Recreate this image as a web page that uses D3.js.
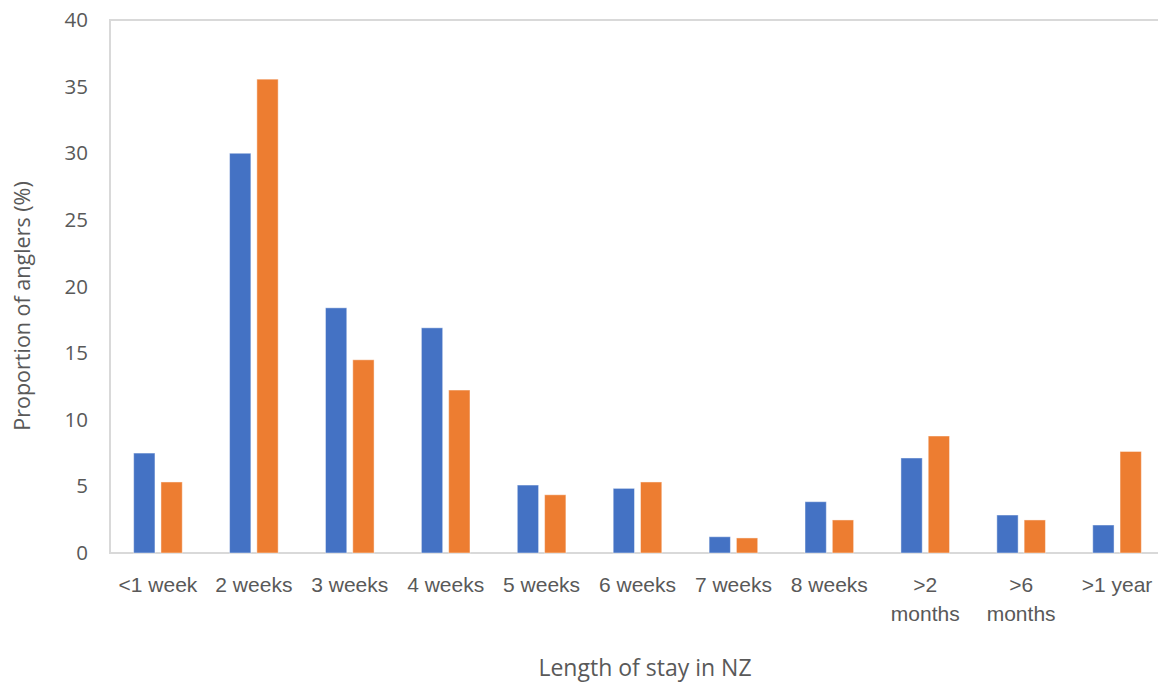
<!DOCTYPE html>
<html>
<head>
<meta charset="utf-8">
<script src="https://cdn.jsdelivr.net/npm/d3@7/dist/d3.min.js"></script>
<style>
  html, body { margin: 0; padding: 0; background: #fff; }
  svg { display: block; font-family: "Open Sans", "Noto Sans", sans-serif; }
</style>
</head>
<body>
<svg id="chart" width="1158" height="684"></svg>
<script>
// Length of stay categories (second line of a label after "\n")
const categories = ["<1 week", "2 weeks", "3 weeks", "4 weeks", "5 weeks", "6 weeks",
                    "7 weeks", "8 weeks", ">2\nmonths", ">6\nmonths", ">1 year"];
const seriesA = [7.5, 30.0, 18.4, 16.9, 5.1, 4.85, 1.22, 3.85, 7.13, 2.85, 2.1];
const seriesB = [5.33, 35.56, 14.5, 12.23, 4.37, 5.33, 1.13, 2.48, 8.78, 2.48, 7.62];
const yTicks = [0, 5, 10, 15, 20, 25, 30, 35, 40];

const svg = d3.select("#chart");
const margin = { left: 110, top: 20, right: -7, bottom: 131 };
const W = 1158, H = 684;
const x0 = margin.left, x1 = W - margin.right;
const y0 = H - margin.bottom, y1 = margin.top;

const x = d3.scaleBand().domain(categories).range([x0, x1]).paddingInner(0).paddingOuter(0);
const y = d3.scaleLinear().domain([0, 40]).range([y0, y1]);

const barW = 21.3, gap = 6;
const colors = ["#4472C4", "#ED7D31"];
const grey = "#595959";

// Plot area frame
svg.append("rect")
  .attr("x", x0).attr("y", y1)
  .attr("width", x1 - x0).attr("height", y0 - y1)
  .attr("fill", "none").attr("stroke", "#d9d9d9").attr("stroke-width", 2);

// Bars
[seriesA, seriesB].forEach((vals, si) => {
  svg.append("g").selectAll("rect")
    .data(vals)
    .join("rect")
    .attr("x", (d, i) => x(categories[i]) + x.bandwidth() / 2 + (si === 0 ? -(barW + gap / 2) : gap / 2))
    .attr("y", d => y(d))
    .attr("width", barW)
    .attr("height", d => y(0) - y(d))
    .attr("fill", colors[si])
    .attr("stroke", "#ffffff").attr("stroke-opacity", 0.45).attr("stroke-width", 1);
});

// Y axis labels
const yAxis = d3.axisLeft(y).tickValues(yTicks).tickSize(0).tickPadding(22);
const gy = svg.append("g").attr("transform", `translate(${x0},0)`).call(yAxis);
gy.select(".domain").remove();
gy.selectAll("text").attr("fill", grey).style("font-size", "20.5px")
  .style("font-family", "'Open Sans', sans-serif");

// X axis labels (wrapped on "\n")
const xAxis = d3.axisBottom(x).tickSize(0).tickFormat("");
const gx = svg.append("g").attr("transform", `translate(0,${y0})`).call(xAxis);
gx.select(".domain").remove();
gx.selectAll(".tick").each(function (d) {
  const t = d3.select(this).append("text")
    .attr("fill", grey).attr("text-anchor", "middle")
    .style("font-size", "21px");
  d.split("\n").forEach((line, li) => {
    t.append("tspan").attr("x", 0).attr("y", 39 + li * 29).text(line);
  });
});

// Axis titles
svg.append("text")
  .attr("transform", `translate(30,306) rotate(-90)`)
  .attr("text-anchor", "middle").attr("fill", grey)
  .style("font-size", "21.5px")
  .text("Proportion of anglers (%)");

svg.append("text")
  .attr("x", 645).attr("y", 676)
  .attr("text-anchor", "middle").attr("fill", grey)
  .style("font-size", "23px")
  .text("Length of stay in NZ");
</script>
</body>
</html>
